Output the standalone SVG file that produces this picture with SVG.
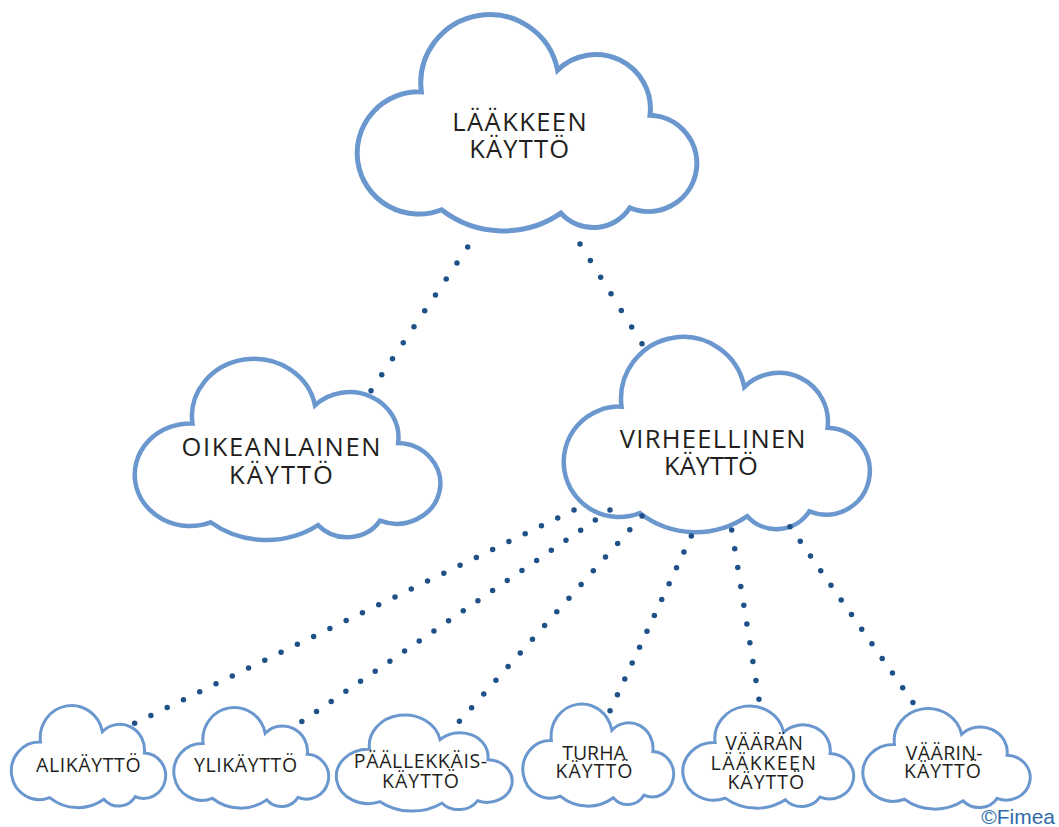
<svg xmlns="http://www.w3.org/2000/svg" xmlns:xlink="http://www.w3.org/1999/xlink" width="1059" height="827" viewBox="0 0 1059 827">
  <style>
    .cloud { fill: #ffffff; stroke: #6b97cf; stroke-linejoin: miter; }
    .big { stroke-width: 5; }
    .mid { stroke-width: 4.5; }
    .small { stroke-width: 3; }
    .lbl { font-family: "Open Sans", "DejaVu Sans", sans-serif; fill: #231f20; text-anchor: middle; }
    .l1 { font-size: 25.5px; }
    .l2 { font-size: 19.5px; }
    .dots { fill: none; stroke: #1e5188; stroke-width: 5.5; stroke-linecap: round; }
    .copy { font-family: "Liberation Sans", Arial, sans-serif; font-size: 21px; fill: #2f6aa8; }
  </style>
  <defs>
    <path id="cloud" vector-effect="non-scaling-stroke" d="M 421.7,91.7 A 68.4,68.4 0 0 1 556.7,70 A 54,54 0 0 1 648.3,115 A 48,48 0 1 1 628.3,207.3 A 43,43 0 0 1 560,212.7 A 100,100 0 0 1 441.7,209.3 A 61,61 0 1 1 421.7,91.7 Z"/>
  </defs>

  <g id="node-laakkeen-kaytto">
    <use xlink:href="#cloud" href="#cloud" class="cloud big" transform="matrix(1.00893,0,0,1.00232,-4.1,-0.03)"/>
    <text class="lbl l1" x="520.2" y="130.7" letter-spacing="1.45">LÄÄKKEEN</text>
    <text class="lbl l1" x="519.8" y="158.3" letter-spacing="1.2">KÄYTTÖ</text>
  </g>

  <g id="node-oikeanlainen">
    <use xlink:href="#cloud" href="#cloud" class="cloud mid" transform="matrix(0.90774,0,0,0.83991,-190.33,346.5)"/>
    <text class="lbl l1" x="281.8" y="456" letter-spacing="1.6">OIKEANLAINEN</text>
    <text class="lbl l1" x="282" y="484" letter-spacing="2">KÄYTTÖ</text>
  </g>

  <g id="node-virheellinen">
    <use xlink:href="#cloud" href="#cloud" class="cloud mid" transform="matrix(0.90923,0,0,0.90487,238.13,323.69)"/>
    <text class="lbl l1" x="713.3" y="448.3" letter-spacing="1.3">VIRHEELLINEN</text>
    <text class="lbl l1" x="711" y="475" letter-spacing="0">KÄYTTÖ</text>
  </g>

  <g id="node-alikaytto">
    <use xlink:href="#cloud" href="#cloud" class="cloud small" transform="matrix(0.45833,0,0,0.47332,-152.77,698.58)"/>
    <text class="lbl l2" x="88.6" y="771.5" letter-spacing="0.6">ALIKÄYTTÖ</text>
  </g>

  <g id="node-ylikaytto">
    <use xlink:href="#cloud" href="#cloud" class="cloud small" transform="matrix(0.45982,0,0,0.46636,9.2,700.67)"/>
    <text class="lbl l2" x="245.8" y="771.5" letter-spacing="0.6">YLIKÄYTTÖ</text>
  </g>

  <g id="node-paallekkaiskaytto">
    <use xlink:href="#cloud" href="#cloud" class="cloud small" transform="matrix(0.52232,0,0,0.44548,149.3,708.43)"/>
    <text class="lbl l2" x="420.8" y="768.3" letter-spacing="0.65">PÄÄLLEKKÄIS-</text>
    <text class="lbl l2" x="421" y="788.3" letter-spacing="1">KÄYTTÖ</text>
  </g>

  <g id="node-turha-kaytto">
    <use xlink:href="#cloud" href="#cloud" class="cloud small" transform="matrix(0.44792,0,0,0.47332,362.47,697.08)"/>
    <text class="lbl l2" x="594" y="760">TURHA</text>
    <text class="lbl l2" x="594.5" y="778.3" letter-spacing="1">KÄYTTÖ</text>
  </g>

  <g id="node-vaaran-laakkeen-kaytto">
    <use xlink:href="#cloud" href="#cloud" class="cloud small" transform="matrix(0.50744,0,0,0.47332,501.13,699.08)"/>
    <text class="lbl l2" x="764.4" y="750" letter-spacing="0.5">VÄÄRÄN</text>
    <text class="lbl l2" x="764" y="770" letter-spacing="1.5">LÄÄKKEEN</text>
    <text class="lbl l2" x="766.3" y="789.3" letter-spacing="1">KÄYTTÖ</text>
  </g>

  <g id="node-vaarinkaytto">
    <use xlink:href="#cloud" href="#cloud" class="cloud small" transform="matrix(0.49702,0,0,0.46636,684.87,701.67)"/>
    <text class="lbl l2" x="944.4" y="760" letter-spacing="0.35">VÄÄRIN-</text>
    <text class="lbl l2" x="943" y="778.3" letter-spacing="1">KÄYTTÖ</text>
  </g>

  <g id="connectors">
    <path class="dots" stroke-dasharray="0 19.24" d="M 467.7,247 L 371,390.7"/>
    <path class="dots" stroke-dasharray="0 19.56" d="M 580,244 L 642,343.7"/>
    <path class="dots" stroke-dasharray="0 18.09" d="M 574,510 L 134.3,723.5"/>
    <path class="dots" stroke-dasharray="0 17.8" d="M 610,510 L 301.7,721.7"/>
    <path class="dots" stroke-dasharray="0 18.32" d="M 642,516 L 459.3,721.5"/>
    <path class="dots" stroke-dasharray="0 17.51" d="M 691.3,536 L 610,710.7"/>
    <path class="dots" stroke-dasharray="0 19.04" d="M 731.7,530 L 759,699.3"/>
    <path class="dots" stroke-dasharray="0 17.87" d="M 790,526.7 L 913,702.5"/>
  </g>

  <text class="copy" x="1055" y="824" text-anchor="end">©Fimea</text>
</svg>
